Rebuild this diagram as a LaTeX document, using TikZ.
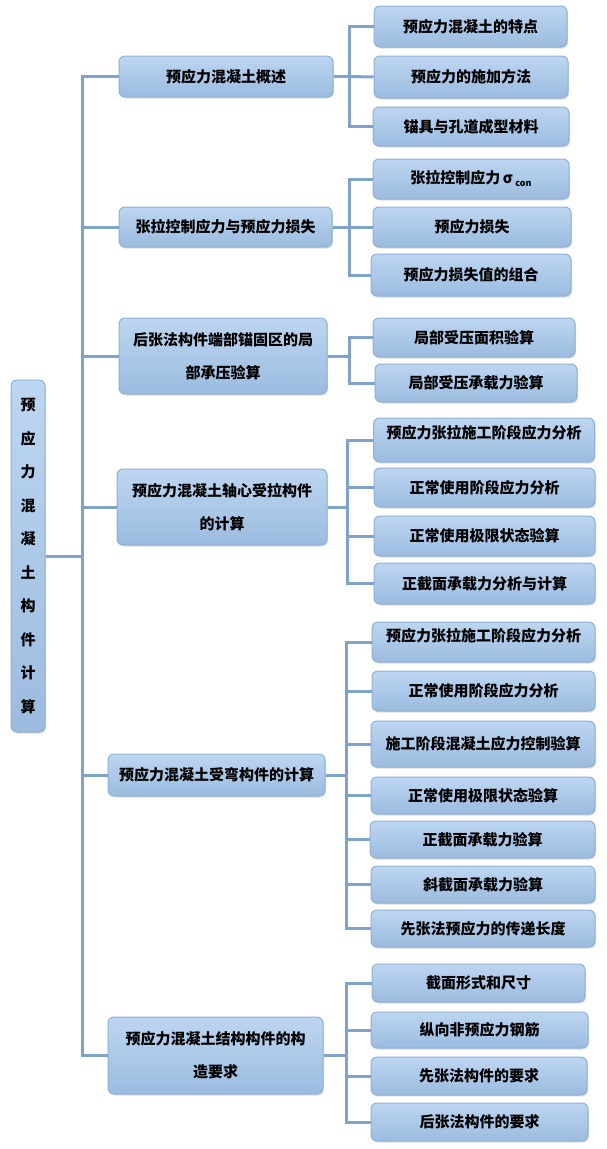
\documentclass[tikz,border=0pt]{standalone}
\usepackage{fontspec}
\setmainfont{Noto Sans CJK SC}
\usepackage{tikz}
\usetikzlibrary{shadows}
\definecolor{boxtop}{HTML}{BDD6F1}
\definecolor{boxbot}{HTML}{9BBBDF}
\definecolor{boxline}{HTML}{8FB0D6}
\definecolor{linkblue}{HTML}{7FA3CB}
\tikzset{main node/.style={rectangle,rounded corners=6pt,draw=boxline,line width=1pt,top color=boxtop,bottom color=boxbot,drop shadow={shadow xshift=1pt,shadow yshift=-1.5pt,opacity=0.25},inner sep=0pt,align=center,font=\fontsize{15}{33}\selectfont\bfseries},
leaf node/.style={main node,minimum width=221pt},
link/.style={draw=linkblue,line width=3pt},}

\begin{document}
\begin{tikzpicture}[x=1pt,y=-1pt]
\useasboundingbox (0,0) rectangle (606,1149);

 \node[main node,minimum width=34pt,minimum height=352pt,font=\fontsize{15}{33.5}\selectfont\bfseries] (0) at (28,556) {预\\应\\力\\混\\凝\\土\\构\\件\\计\\算};

 % first level
 \node[main node,minimum width=214pt,minimum height=41pt] (1) at (226,76.5) {预应力混凝土概述};
 \node[main node,minimum width=213pt,minimum height=40pt] (2) at (225.5,227) {张拉控制应力与预应力损失};
 \node[main node,minimum width=208pt,minimum height=76pt] (3) at (223,356) {后张法构件端部锚固区的局\\部承压验算};
 \node[main node,minimum width=210pt,minimum height=76pt] (4) at (222,507) {预应力混凝土轴心受拉构件\\的计算};
 \node[main node,minimum width=217pt,minimum height=42pt] (5) at (216.5,775) {预应力混凝土受弯构件的计算};
 \node[main node,minimum width=215pt,minimum height=77pt] (6) at (215.5,1055.5) {预应力混凝土结构构件的构\\造要求};

 % second level
 \node[main node,minimum width=193pt,minimum height=41pt] (11) at (470.5,26.5) {预应力混凝土的特点};
 \node[main node,minimum width=194pt,minimum height=42pt] (12) at (471,77) {预应力的施加方法};
 \node[main node,minimum width=196pt,minimum height=39pt] (13) at (471,126.5) {锚具与孔道成型材料};
 \node[main node,minimum width=196pt,minimum height=40pt] (21) at (471,179) {张拉控制应力\,σ\,\raisebox{-3pt}{\fontsize{9}{9}\selectfont con}};
 \node[main node,minimum width=198pt,minimum height=40pt] (22) at (472,227) {预应力损失};
 \node[main node,minimum width=200pt,minimum height=42pt] (23) at (471,275) {预应力损失值的组合};
 \node[main node,minimum width=202pt,minimum height=39pt] (31) at (474,337.5) {局部受压面积验算};
 \node[main node,minimum width=202pt,minimum height=38pt] (32) at (476,383) {局部受压承载力验算};
 \node[leaf node,minimum height=44pt,text depth=16pt] (41) at (484,440) {预应力张拉施工阶段应力分析};
 \node[leaf node,minimum height=39pt] (42) at (484.5,487.5) {正常使用阶段应力分析};
 \node[leaf node,minimum height=40pt] (43) at (484.5,536) {正常使用极限状态验算};
 \node[leaf node,minimum height=41pt] (44) at (484.5,583.5) {正截面承载力分析与计算};
 \node[leaf node,minimum width=223pt,minimum height=40pt,text depth=14pt] (51) at (483.5,642) {预应力张拉施工阶段应力分析};
 \node[leaf node,minimum width=223pt,minimum height=40pt] (52) at (483.5,691) {正常使用阶段应力分析};
 \node[leaf node,minimum width=224pt,minimum height=46pt] (53) at (483,744) {施工阶段混凝土应力控制验算};
 \node[leaf node,minimum width=224pt,minimum height=37pt] (54) at (483,795.5) {正常使用极限状态验算};
 \node[leaf node,minimum width=225pt,minimum height=37pt] (55) at (482.5,839.5) {正截面承载力验算};
 \node[leaf node,minimum width=224pt,minimum height=37pt] (56) at (483,884.5) {斜截面承载力验算};
 \node[leaf node,minimum width=224pt,minimum height=37pt] (57) at (483,928.5) {先张法预应力的传递长度};
 \node[main node,minimum width=213pt,minimum height=38pt] (61) at (478.5,983) {截面形式和尺寸};
 \node[main node,minimum width=217pt,minimum height=36pt] (62) at (479.5,1030) {纵向非预应力钢筋};
 \node[main node,minimum width=216pt,minimum height=38pt] (63) at (479,1076) {先张法构件的要求};
 \node[main node,minimum width=217pt,minimum height=38pt] (64) at (479.5,1122) {后张法构件的要求};

 % branch points
 \coordinate (j0) at (82,556);
 \coordinate (j1) at (349,76.5);
 \coordinate (j2) at (349,227);
 \coordinate (j3) at (349,356);
 \coordinate (j4) at (347,507);
 \coordinate (j5) at (346,775);
 \coordinate (j6) at (346,1055.5);

 \draw[link] (0.east) -- (j0);
 \draw[link] (1.west) -| (j0) |- (6.west);
 \draw[link] (j0) |- (2.west);
 \draw[link] (j0) |- (3.west);
 \draw[link] (j0) |- (4.west);
 \draw[link] (j0) |- (5.west);

 \draw[link] (1.east) -- (j1);
 \draw[link] (11.west) -| (j1) |- (13.west);
 \draw[link] (j1) -- (12.west);
 \draw[link] (2.east) -- (j2);
 \draw[link] (21.west) -| (j2) |- (23.west);
 \draw[link] (j2) -- (22.west);
 \draw[link] (3.east) -- (j3);
 \draw[link] (31.west) -| (j3) |- (32.west);
 \draw[link] (4.east) -- (j4);
 \draw[link] (41.west) -| (j4) |- (44.west);
 \draw[link] (j4) |- (42.west);
 \draw[link] (j4) |- (43.west);
 \draw[link] (5.east) -- (j5);
 \draw[link] (51.west) -| (j5) |- (57.west);
 \draw[link] (j5) |- (52.west);
 \draw[link] (j5) |- (53.west);
 \draw[link] (j5) |- (54.west);
 \draw[link] (j5) |- (55.west);
 \draw[link] (j5) |- (56.west);
 \draw[link] (6.east) -- (j6);
 \draw[link] (61.west) -| (j6) |- (64.west);
 \draw[link] (j6) |- (62.west);
 \draw[link] (j6) |- (63.west);
\end{tikzpicture}
\end{document}
